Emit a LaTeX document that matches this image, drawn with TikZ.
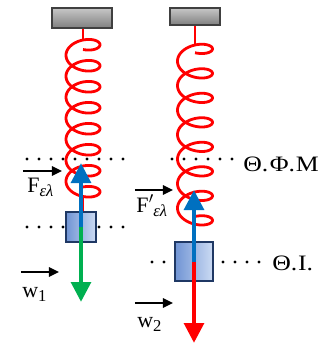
\documentclass[tikz,border=0pt]{standalone}
\usepackage{fontspec}
\setmainfont{Liberation Serif}
\usetikzlibrary{arrows.meta,shadings}
\definecolor{springred}{RGB}{255,0,0}
\definecolor{forceblue}{RGB}{0,112,192}
\definecolor{forcegreen}{RGB}{0,176,80}
\definecolor{massedge}{RGB}{31,56,100}
\definecolor{massleft}{RGB}{112,148,212}
\definecolor{massright}{RGB}{204,219,243}
\definecolor{blockedge}{RGB}{64,64,64}
\tikzset{
  ceiling/.style={draw=blockedge,line width=0.9pt,top color=black!22,bottom color=black!50,inner sep=0pt},
  massbox/.style={draw=massedge,line width=0.8pt,left color=massleft,right color=massright,inner sep=0pt},
  springline/.style={draw=springred,line width=2.1pt,line join=round},
  force/.style={line width=3.6pt,-{Triangle[length=15pt,width=14.5pt]}},
  vecarrow/.style={line width=1.4pt,-{Triangle[length=7.5pt,width=7pt]}},
  dotline/.style={line width=2.4pt,line cap=round,dash pattern=on 0pt off 9pt},
  lbl/.style={inner sep=0pt,anchor=base west,font=\fontsize{16.5}{18}\selectfont},
}
\newcommand{\subsc}[1]{\raisebox{-0.4ex}{\fontsize{12.5}{12.5}\selectfont #1}}
\begin{document}
\begin{tikzpicture}[x=0.75pt,y=-0.75pt]
\useasboundingbox (0,0) rectangle (329,344);
% dotted level lines
\draw[dotline] (27,159) -- (124,159);
\draw[dotline] (172,159) -- (234,159);
\draw[dotline] (27,227) -- (124,227);
\draw[dotline] (152,262) -- (165,262);
\draw[dotline] (223,262) -- (262,262);
% ceilings
\node[ceiling,minimum width=45pt,minimum height=15pt] (c1) at (82,18) {};
\node[ceiling,minimum width=37.5pt,minimum height=12.75pt] (c2) at (195,16.5) {};
% spring end points
\coordinate (s1top) at (83,40);
\coordinate (s1bot) at (83,196.5);
\coordinate (m1top) at (83,212);
\coordinate (s2top) at (195,45);
\coordinate (s2bot) at (195,224.25);
\coordinate (m2top) at (195,242);
% springs
\draw[springline] (c1.south -| s1top) -- (s1top);
\draw[springline] plot[domain=0.5*pi:15.5*pi,samples=420,smooth,variable=\s]
  ({83-17*cos(\s r)},{49.5+3.342*(\s-0.5*pi)+10*(sin(\s r)-1)});
\draw[springline] (s1bot) -- (m1top);
\draw[springline] (c2.south -| s2top) -- (s2top);
\draw[springline] plot[domain=0.5*pi:15.5*pi,samples=420,smooth,variable=\s]
  ({195-17.5*cos(\s r)},{52.75+3.899*(\s-0.5*pi)+10*(sin(\s r)-1)});
\draw[springline] (s2bot) -- (m2top);
% masses
\node[massbox,minimum width=22.5pt,minimum height=22.5pt] (m1) at (81,227) {};
\node[massbox,minimum width=28.5pt,minimum height=29.25pt] (m2) at (194,261.5) {};
% force arrows
\coordinate (f1) at (81,163);
\coordinate (w1tip) at (81,302);
\coordinate (f2) at (194,190);
\coordinate (w2tip) at (194,343);
\draw[force,forcegreen] (m1.center) -- (w1tip);
\draw[force,forceblue] (m1.center) -- (f1);
\draw[force,springred] (m2.center) -- (w2tip);
\draw[force,forceblue] (m2.center) -- (f2);
% labels
\node[lbl] (lf1) at (27,192) {F\subsc{\textit{ελ}}};
\node[lbl] (lf2) at (136,212) {F\kern0.3pt$'$\kern-0.5pt\subsc{\textit{ελ}}};
\node[lbl] (lw1) at (22,297) {w\subsc{1}};
\node[lbl] (lw2) at (137,327) {w\subsc{2}};
\node[lbl] (lpos1) at (243,171) {\scalebox{1.17}[1]{Θ.\kern1ptΦ.\kern0.5ptΜ}};
\node[lbl] (lpos2) at (272,270) {\scalebox{1.17}[1]{Θ.\kern0.5ptΙ.}};
% vector arrows above symbols
\coordinate (af1s) at (23,171); \coordinate (af1e) at (62,171);
\coordinate (af2s) at (135,190); \coordinate (af2e) at (173,190);
\coordinate (aw1s) at (21,272); \coordinate (aw1e) at (59,272);
\coordinate (aw2s) at (135,303); \coordinate (aw2e) at (173,303);
\draw[vecarrow] (af1s) -- (af1e);
\draw[vecarrow] (af2s) -- (af2e);
\draw[vecarrow] (aw1s) -- (aw1e);
\draw[vecarrow] (aw2s) -- (aw2e);
\end{tikzpicture}
\end{document}
